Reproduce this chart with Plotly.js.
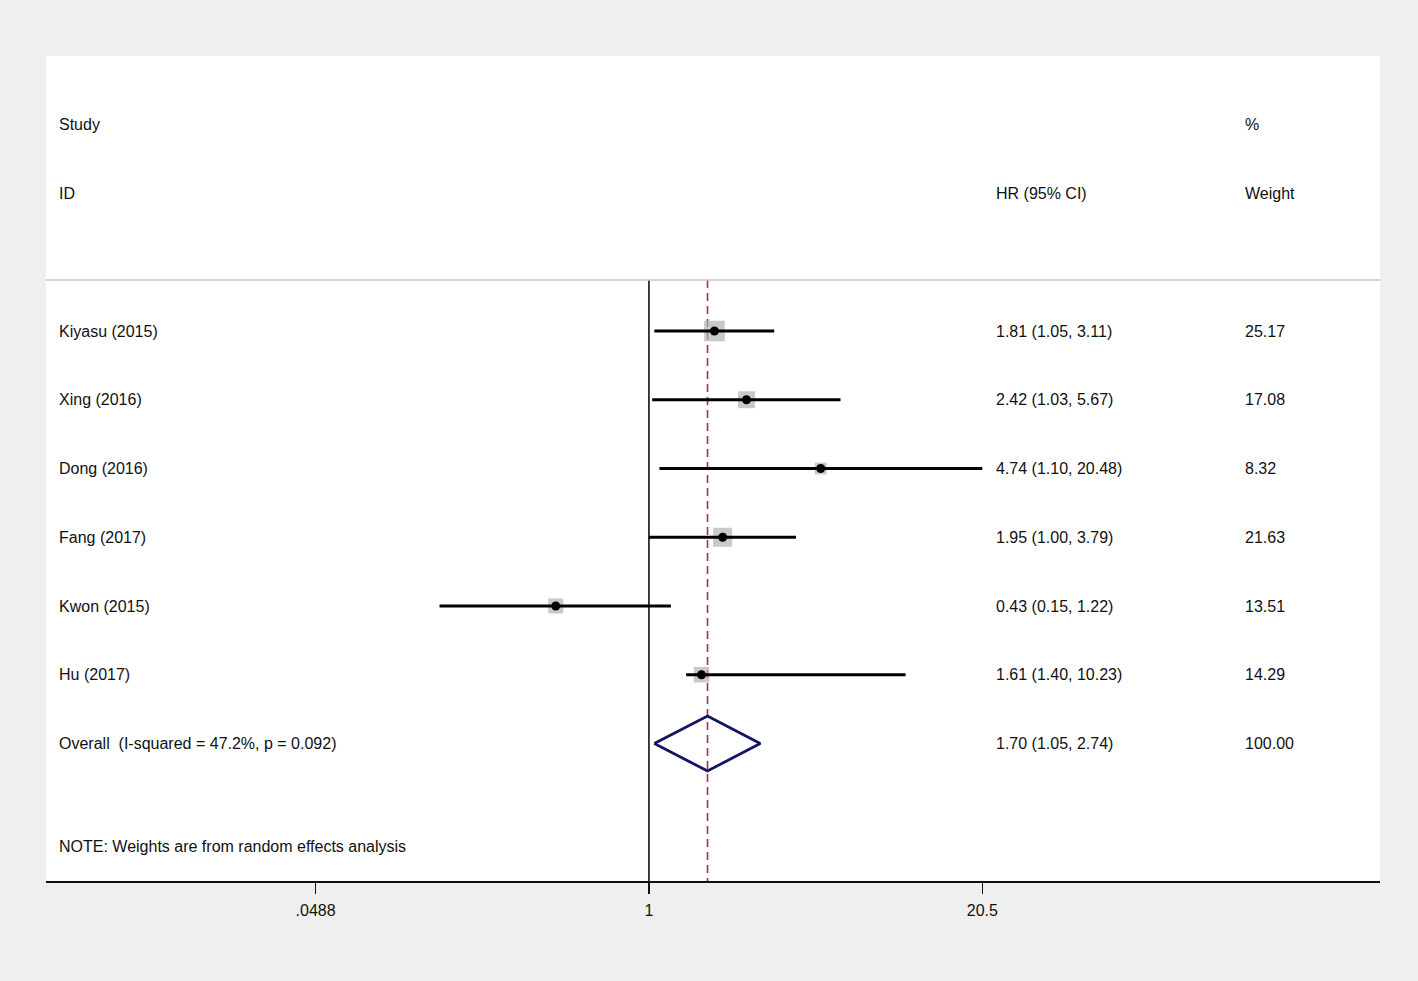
<!DOCTYPE html>
<html>
<head>
<meta charset="utf-8">
<script src="https://cdn.plot.ly/plotly-3.0.1.min.js"></script>
<style>
  html, body { margin: 0; padding: 0; background: #efefef; }
  #chart { width: 1418px; height: 981px; }
</style>
</head>
<body>
<div id="chart"></div>
<script>
// ---- Data ----
const studies = ["Kiyasu (2015)", "Xing (2016)", "Dong (2016)", "Fang (2017)", "Kwon (2015)", "Hu (2017)"];
const hr      = [1.81, 2.42, 4.74, 1.95, 0.43, 1.61];
const ciLow   = [1.05, 1.03, 1.10, 1.00, 0.15, 1.40];
const ciHigh  = [3.11, 5.67, 20.48, 3.79, 1.22, 10.23];
const weights = [25.17, 17.08, 8.32, 21.63, 13.51, 14.29];

const overallLabel = "Overall\u00a0\u00a0(I-squared = 47.2%, p = 0.092)";
const overallHR = 1.70;
const overallLow = 1.05;
const overallHigh = 2.74;
const overallWeight = 100.00;

const noteText = "NOTE: Weights are from random effects analysis";
const tickValues = [0.0488, 1, 20.5];
const tickLabels = [".0488", "1", "20.5"];

// ---- Layout helpers (row positions, styles) ----
const firstRow = 4;
const rows = studies.map((_, i) => firstRow + i);
const overallRow = firstRow + studies.length;
const sepY = 3.26;
const yBottom = 12;
const textFont = { family: "Liberation Sans, Arial, sans-serif", size: 16, color: "#111111" };

const traces = [];

// Null line at 1
traces.push({
  type: "scatter", mode: "lines", x: [1, 1], y: [sepY, yBottom],
  line: { color: "#111111", width: 1.6 }, hoverinfo: "skip", showlegend: false
});
// Overall effect dashed line
traces.push({
  type: "scatter", mode: "lines", x: [overallHR, overallHR], y: [sepY, yBottom],
  line: { color: "#a83240", width: 1.6, dash: "8px,5px" }, hoverinfo: "skip", showlegend: false
});

// Weight boxes
traces.push({
  type: "scatter", mode: "markers", x: hr, y: rows,
  marker: { symbol: "square", color: "#b2b2b2", size: weights.map(w => 4.1 * Math.sqrt(w)), line: { width: 0 } },
  hoverinfo: "skip", showlegend: false
});

// CI lines
const ciX = [], ciY = [];
studies.forEach((_, i) => { ciX.push(ciLow[i], ciHigh[i], null); ciY.push(rows[i], rows[i], null); });
traces.push({
  type: "scatter", mode: "lines", x: ciX, y: ciY,
  line: { color: "#000000", width: 2.8 }, hoverinfo: "skip", showlegend: false
});

// Point estimates
traces.push({
  type: "scatter", mode: "markers", x: hr, y: rows,
  marker: { symbol: "circle", color: "#000000", size: 9 },
  hoverinfo: "skip", showlegend: false
});

// Overall diamond
const dh = 0.4;
traces.push({
  type: "scatter", mode: "lines",
  x: [overallLow, overallHR, overallHigh, overallHR, overallLow],
  y: [overallRow, overallRow - dh, overallRow, overallRow + dh, overallRow],
  line: { color: "#141464", width: 2.8 }, hoverinfo: "skip", showlegend: false
});

// ---- Annotations ----
const colLeft = 0.0083, colHR = 0.7106, colW = 0.8973;
const ann = [];
function addText(txt, x, y) {
  ann.push({ text: txt, xref: "paper", yref: "y", x: x, y: y, xanchor: "left", yanchor: "middle",
             showarrow: false, font: textFont });
}
addText("Study", colLeft, 1);
addText("ID", colLeft, 2);
addText("%", colW, 1);
addText("HR (95% CI)", colHR, 2);
addText("Weight", colW, 2);
studies.forEach((s, i) => {
  addText(s, colLeft, rows[i]);
  addText(hr[i].toFixed(2) + " (" + ciLow[i].toFixed(2) + ", " + ciHigh[i].toFixed(2) + ")", colHR, rows[i]);
  addText(weights[i].toFixed(2), colW, rows[i]);
});
addText(overallLabel, colLeft, overallRow);
addText(overallHR.toFixed(2) + " (" + overallLow.toFixed(2) + ", " + overallHigh.toFixed(2) + ")", colHR, overallRow);
addText(overallWeight.toFixed(2), colW, overallRow);
addText(noteText, colLeft, 11.5);

const layout = {
  width: 1418, height: 981,
  margin: { l: 46, r: 38, t: 56, b: 100, pad: 0 },
  paper_bgcolor: "#efefef",
  plot_bgcolor: "#ffffff",
  showlegend: false,
  font: textFont,
  xaxis: {
    type: "log",
    range: [-2.372, 2.876],
    tickvals: tickValues, ticktext: tickLabels,
    ticks: "outside", ticklen: 11, tickwidth: 1.6, tickcolor: "#111111",
    ticklabelstandoff: 3,
    showline: true, linecolor: "#111111", linewidth: 2,
    showgrid: false, zeroline: false,
    tickfont: { family: "Liberation Sans, Arial, sans-serif", size: 16, color: "#111111" },
    fixedrange: true
  },
  yaxis: {
    range: [yBottom, 0],
    showticklabels: false, showgrid: false, zeroline: false, showline: false, ticks: "",
    fixedrange: true
  },
  shapes: [
    { type: "line", xref: "paper", yref: "y", x0: 0, x1: 1, y0: sepY, y1: sepY,
      line: { color: "#c4c4c4", width: 1.5 } }
  ],
  annotations: ann
};

Plotly.newPlot("chart", traces, layout, { displayModeBar: false, staticPlot: true });
</script>
</body>
</html>
